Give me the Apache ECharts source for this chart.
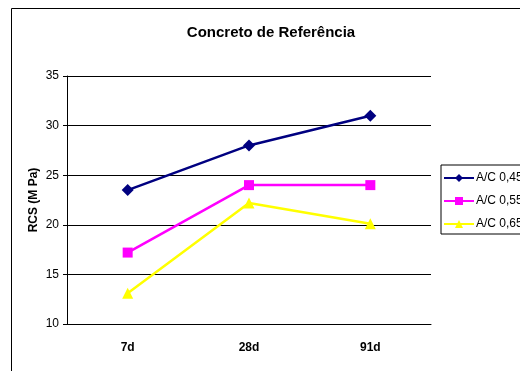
<!DOCTYPE html>
<html><head><meta charset="utf-8">
<script src="https://cdn.jsdelivr.net/npm/echarts@6/dist/echarts.min.js"></script>
<style>html,body{margin:0;padding:0;background:#fff}#c{width:520px;height:371px}</style>
</head><body><div id="c"></div>
<script>
const categories = ['7d', '28d', '91d'];
const seriesNames = ['A/C 0,45', 'A/C 0,55', 'A/C 0,65'];
const ac045 = [23.5, 28.0, 31.0];
const ac055 = [17.2, 24.0, 24.0];
const ac065 = [13.1, 22.2, 20.1];
const yTicks = [10, 15, 20, 25, 30, 35];
const titleText = 'Concreto de Referência';
const yAxisTitle = 'RCS (M Pa)';

const chart = echarts.init(document.getElementById('c'), null, {renderer: 'canvas'});
const font = 'Arial, "Liberation Sans", sans-serif';
function mk(name, data, color, symbol, size) {
  return {
    name: name, type: 'line', data: data,
    symbol: symbol, symbolSize: size,
    lineStyle: {color: color, width: 2.5},
    itemStyle: {color: color},
    animation: false
  };
}
chart.setOption({
  animation: false,
  graphic: [{
    type: 'rect', shape: {x: 11.5, y: 8.5, width: 600, height: 500},
    style: {fill: 'none', stroke: '#000', lineWidth: 1}, silent: true, z: 0
  }, {
    type: 'text', x: 271, y: 32.5,
    style: {text: titleText, fontFamily: font, fontSize: 15, fontWeight: 'bold',
      fill: '#000', align: 'center', verticalAlign: 'middle'}, silent: true
  }, {
    type: 'text', x: 34, y: 200, rotation: Math.PI / 2,
    style: {text: yAxisTitle, fontFamily: font, fontSize: 12, fontWeight: 'bold',
      fill: '#000', align: 'center', verticalAlign: 'middle'}, silent: true
  }],
  grid: {left: 67, top: 76, width: 364, height: 248, containLabel: false},
  legend: {
    orient: 'vertical', left: 441, top: 165,
    padding: [7, 40, 4, 2], itemGap: 11, itemWidth: 30, itemHeight: 10,
    borderColor: '#000', borderWidth: 1, backgroundColor: '#fff',
    textStyle: {fontFamily: font, fontSize: 12, color: '#000', padding: [0, 0, 0, -3]},
    data: seriesNames
  },
  xAxis: {
    type: 'category', data: categories, boundaryGap: true,
    axisLine: {lineStyle: {color: '#000', width: 1}},
    axisTick: {show: false},
    axisLabel: {fontFamily: font, fontSize: 12, fontWeight: 'bold', color: '#000', margin: 18}
  },
  yAxis: {
    type: 'value', min: yTicks[0], max: yTicks[yTicks.length - 1], interval: 5,
    axisLine: {show: true, lineStyle: {color: '#000', width: 1}},
    axisTick: {show: true, length: 4, lineStyle: {color: '#000'}},
    axisLabel: {fontFamily: font, fontSize: 12, color: '#000', margin: 8},
    splitLine: {lineStyle: {color: '#000', width: 1}}
  },
  series: [
    mk(seriesNames[0], ac045, '#000080', 'diamond', 12),
    mk(seriesNames[1], ac055, '#FF00FF', 'rect', 10),
    mk(seriesNames[2], ac065, '#FFFF00', 'triangle', 11)
  ]
});
</script></body></html>
